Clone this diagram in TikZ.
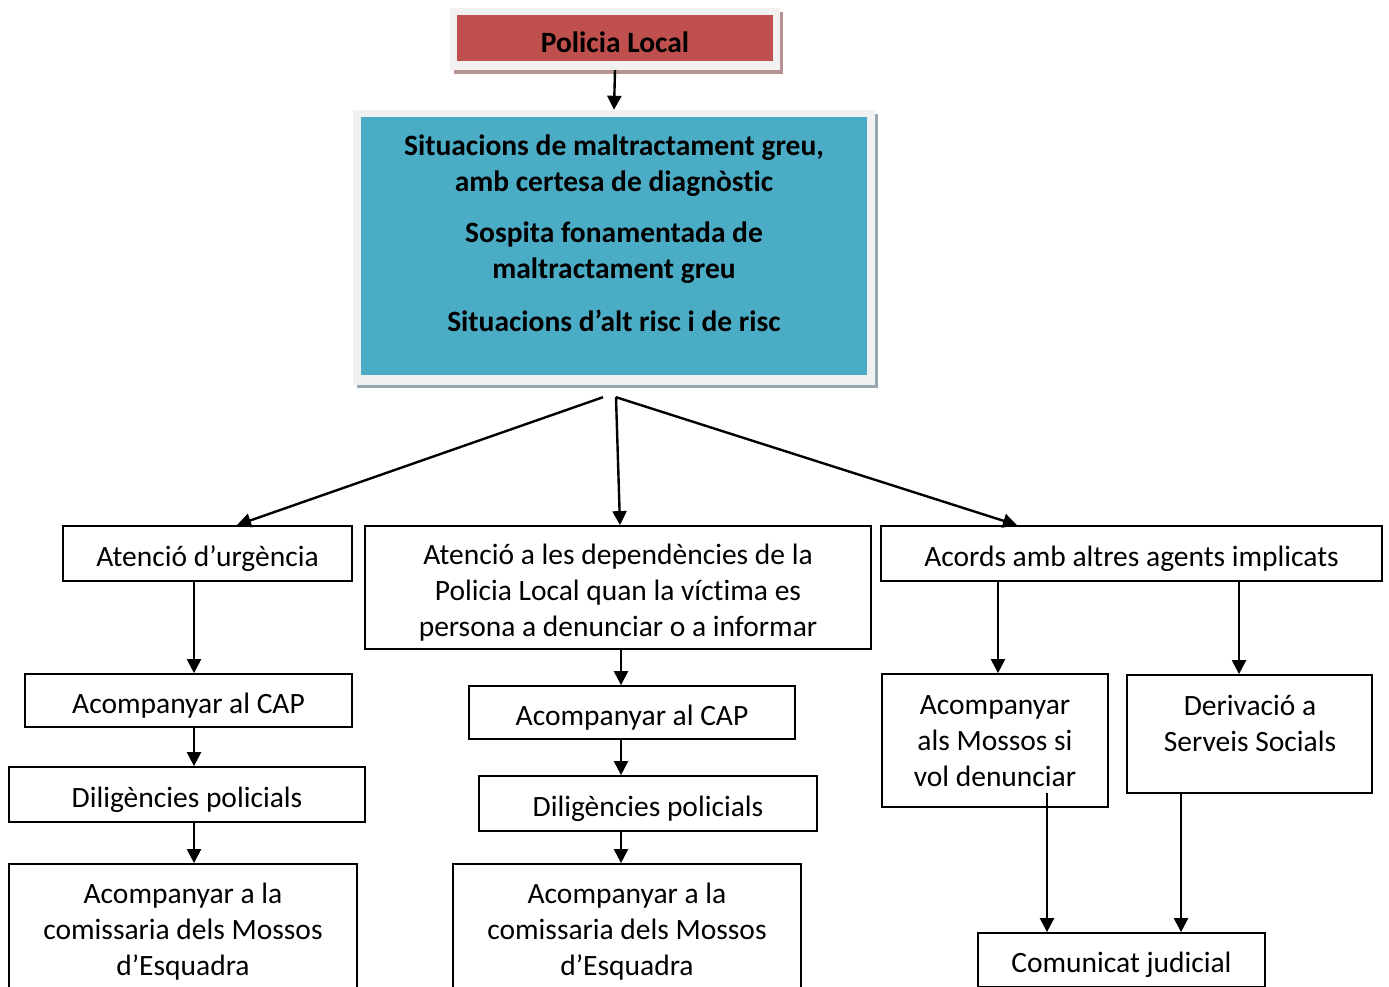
\documentclass[tikz,border=0pt]{standalone}
\usepackage{fontspec}
\setmainfont{Carlito}[Ligatures=NoCommon]
\usetikzlibrary{arrows.meta,calc}
\definecolor{redfill}{HTML}{C0504D}
\definecolor{bluefill}{HTML}{4BACC6}
\definecolor{framegray}{HTML}{F1F1F1}
\definecolor{redshadow}{HTML}{B99292}
\definecolor{blueshadow}{HTML}{93A6B1}
\begin{document}
\begin{tikzpicture}[x=1pt,y=-1pt,
  box/.style={draw=black,line width=1.8pt,fill=white,inner sep=0pt,align=center,
    font=\fontsize{29.5}{36}\selectfont},
  frame/.style={fill=framegray,inner sep=0pt},
  txt/.style={inner sep=0pt,align=center,font=\fontsize{29.5}{36}\selectfont},
  boldtxt/.style={inner sep=0pt,align=center,font=\bfseries\fontsize{29.5}{36}\selectfont},
  lone/.style={text height=32pt,text depth=7pt},
  ltwo/.style={text height=68pt,text depth=7pt},
  lthree/.style={text height=104pt,text depth=7pt},
  lthreeup/.style={text height=98pt,text depth=7pt},
  arr/.style={line width=2.4pt,-{Triangle[length=14pt,width=14pt]}},
]
\useasboundingbox[fill=white] (0,0) rectangle (1389,987);

% Header box with its shadow and light frame
\fill[redshadow] (454,12) rectangle (783,74);
\node[frame,minimum width=330,minimum height=62] (plf) at (615,39) {};
\node[fill=redfill,inner sep=0pt,minimum width=316,minimum height=46,
  text height=37pt,text depth=7pt,
  font=\bfseries\fontsize{29.5}{30}\selectfont] (pl) at (615,38) {Policia Local};

% Situations box with its shadow and light frame
\fill[blueshadow] (357,114) rectangle (878,388);
\node[frame,minimum width=522,minimum height=275] (bf) at (614,247.5) {};
\node[fill=bluefill,inner sep=0pt,minimum width=506,minimum height=258] (bl) at (614,246) {};
\node[boldtxt] (bt) at (614,233) {Situacions de maltractament greu,\\amb certesa de diagnòstic\\[15pt]
  Sospita fonamentada de\\maltractament greu\\[17pt]Situacions d’alt risc i de risc};

\draw[arr] (plf.south) -- (bf.north);

\coordinate (s1) at ($(bf.south)+(-11,12)$);
\coordinate (s2) at ($(bf.south)+(2,12)$);

% First level
\node[box,lone,minimum width=289,minimum height=55] (u) at (207.5,553.5) {Atenció d’urgència};
\node[box,lthree,minimum width=506,minimum height=123] (m) at (618,587.5)
  {Atenció a les dependències de la\\Policia Local quan la víctima es\\persona a denunciar o a informar};
\node[box,lone,minimum width=501,minimum height=55] (a) at (1131.5,553.5) {Acords amb altres agents implicats};

\draw[arr] (s1) -- ($(u.north)+(29.5,0)$);
\draw[arr] (s2) -- ($(m.north)+(2,0)$);
\draw[arr] (s2) -- ($(a.north)+(-114.5,0)$);

% Left column
\node[box,lone,minimum width=327,minimum height=53] (cap1) at (188.5,700.5) {Acompanyar al CAP};
\node[box,lone,minimum width=356,minimum height=55] (dil1) at (187,794.5) {Diligències policials};
\node[box,lthreeup,minimum width=348,minimum height=132] (com1) at (183,930)
  {Acompanyar a la\\comissaria dels Mossos\\d’Esquadra};

\coordinate (p) at ($(u.south)+(-13.5,0)$);
\draw[arr] (p) -- (p |- cap1.north);
\draw[arr] (cap1.south -| p) -- (dil1.north -| p);
\draw[arr] (dil1.south -| p) -- (com1.north -| p);

% Middle column
\node[box,lone,minimum width=326,minimum height=53] (cap2) at (632,712.5) {Acompanyar al CAP};
\node[box,lone,minimum width=338,minimum height=55] (dil2) at (648,803.5) {Diligències policials};
\node[box,lthreeup,minimum width=348,minimum height=132] (com2) at (627,930)
  {Acompanyar a la\\comissaria dels Mossos\\d’Esquadra};

\coordinate (q) at ($(m.south)+(3,0)$);
\draw[arr] (q) -- (q |- cap2.north);
\draw[arr] (cap2.south -| q) -- (dil2.north -| q);
\draw[arr] (dil2.south -| q) -- (com2.north -| q);

% Right column
\node[box,lthreeup,minimum width=226,minimum height=133] (mos) at (995,740.5)
  {Acompanyar\\als Mossos si\\vol denunciar};
\node[box,minimum width=245,minimum height=118] (der) at (1249.5,734) {};
\node[txt,ltwo] (dert) at (1250,720.5) {Derivació a\\Serveis Socials};
\node[box,lone,minimum width=287,minimum height=54] (cj) at (1121.5,960) {Comunicat judicial};

\coordinate (r1) at ($(a.south)+(-133.5,0)$);
\coordinate (r2) at ($(a.south)+(107.5,0)$);
\draw[arr] (r1) -- (r1 |- mos.north);
\draw[arr] (r2) -- (r2 |- der.north);

\coordinate (r3) at ($(mos.south)+(52,-15)$);
\coordinate (r4) at ($(der.south)+(-68.5,0)$);
\draw[arr] (r3) -- (r3 |- cj.north);
\draw[arr] (r4) -- (r4 |- cj.north);
\end{tikzpicture}
\end{document}
